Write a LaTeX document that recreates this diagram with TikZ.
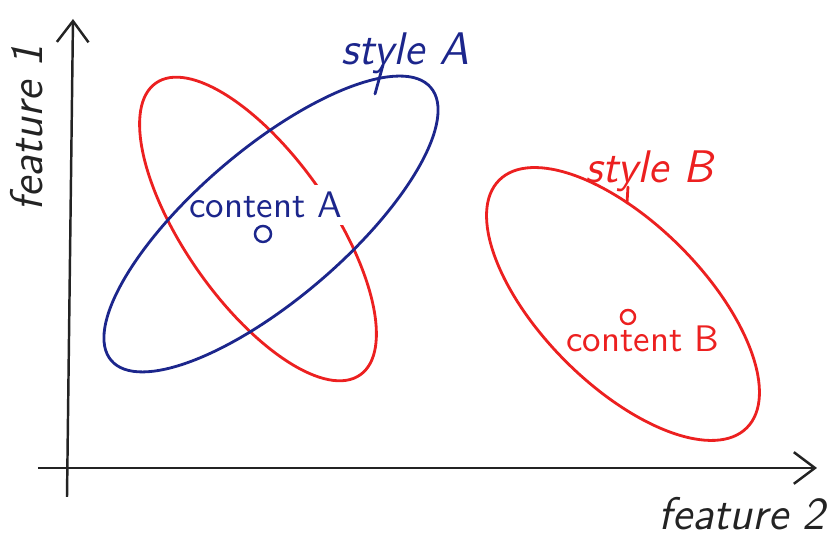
\documentclass[tikz,border=0pt]{standalone}
\usepackage{tikz}
\usetikzlibrary{positioning, arrows.meta, shapes.geometric, calc}

\definecolor{bluepen}{RGB}{28,38,140}
\definecolor{redpen}{RGB}{236,32,32}
\definecolor{blackpen}{RGB}{35,35,35}

\begin{document}
\begin{tikzpicture}[
    x=0.01cm, y=0.01cm,
    pen/.style={line width=0.8pt, line cap=round, line join=round},
    blob/.style={ellipse, draw, pen, inner sep=0pt},
    axis/.style={-{Straight Barb[length=6pt, width=9pt]}, line width=0.7pt, draw=blackpen},
    hand/.style={font=\fontsize{13}{15}\selectfont\sffamily\itshape},
    small/.style={font=\fontsize{10.5}{12}\selectfont\sffamily, inner sep=0pt},
    dot/.style={circle, draw, line width=0.7pt, inner sep=0pt, minimum size=1.9mm}
  ]
    \useasboundingbox (0,0) rectangle (835,549);

    % Axes
    \coordinate (yfoot) at (67,52);
    \coordinate (ytip) at (73,530);
    \coordinate (xfoot) at (38,81);
    \coordinate (xtip) at (817,81);
    \draw[axis] (yfoot) -- (ytip);
    \draw[axis] (xfoot) -- (xtip);
    \node[hand, rotate=90, anchor=base, text=blackpen] (feat1) at (43,421) {feature 1};
    \node[hand, anchor=base, text=blackpen] (feat2) at (742,19) {feature 2};

    % Cluster A
    \node[blob, draw=redpen, minimum width=3.56cm, minimum height=1.46cm, rotate=-55] (ellRA) at (258,320) {};
    \node[small, text=bluepen, fill=white, inner sep=2pt, anchor=base] (contA) at (266,331) {content A};
    \node[blob, draw=bluepen, minimum width=4.2cm, minimum height=1.5cm, rotate=40.5] (ellA) at (271,325) {};
    \node[dot, draw=bluepen, minimum size=1.6mm] (ctrA) at (263,315) {};
    \node[hand, text=bluepen, anchor=base] (lblA) at (405,484) {style A};
    \coordinate (tickA) at (375,455);
    \draw[pen, bluepen] ($(lblA.base)+(-22,0)$) -- (tickA);

    % Cluster B
    \node[blob, draw=redpen, minimum width=3.5cm, minimum height=1.62cm, rotate=-45] (ellB) at (623,245) {};
    \node[dot, draw=redpen, minimum size=1.4mm] (ctrB) at (628,232) {};
    \node[small, text=redpen, anchor=base] (contB) at (643,197) {content B};
    \node[hand, text=redpen, anchor=base] (lblB) at (649,366) {style B};
    \coordinate (tickB) at (627,346);
    \draw[pen, redpen] ($(lblB.base)+(-21,-4)$) -- (tickB);
\end{tikzpicture}
\end{document}
